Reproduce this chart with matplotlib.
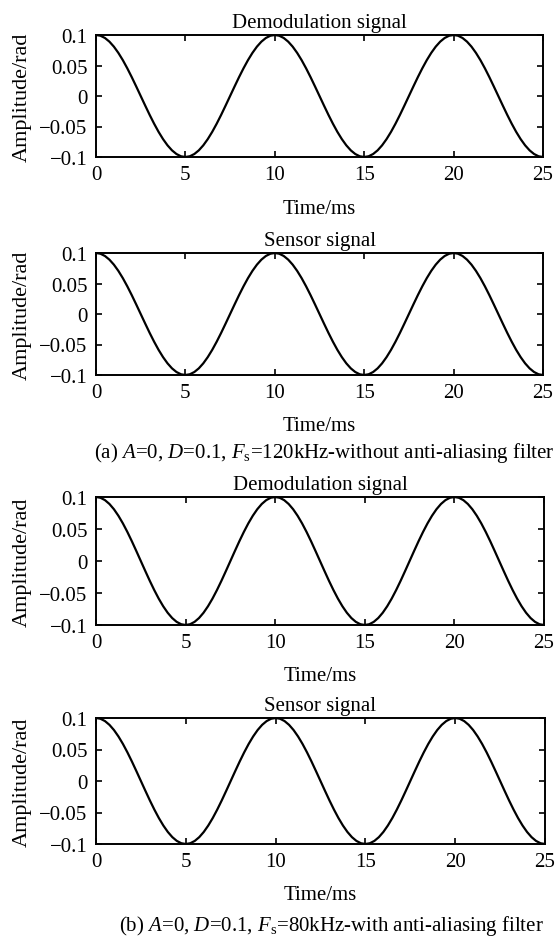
import matplotlib
matplotlib.use("Agg")
import matplotlib.pyplot as plt

plt.rcParams['font.family'] = ['Liberation Serif', 'DejaVu Serif']
plt.rcParams['mathtext.fontset'] = 'custom'
plt.rcParams['mathtext.rm'] = 'Liberation Serif'
plt.rcParams['mathtext.it'] = 'Liberation Serif:italic'

# time axis (ms), read every 0.25 ms
time_ms = [i * 0.25 for i in range(101)]

# amplitude (rad)
demod_a = [
    0.1, 0.0988, 0.0951, 0.0891, 0.0809, 0.0707, 0.0588, 0.0454, 0.0309, 0.0156,
    0.0, -0.0156, -0.0309, -0.0454, -0.0588, -0.0707, -0.0809, -0.0891, -0.0951, -0.0988,
    -0.1, -0.0988, -0.0951, -0.0891, -0.0809, -0.0707, -0.0588, -0.0454, -0.0309, -0.0156,
    0.0, 0.0156, 0.0309, 0.0454, 0.0588, 0.0707, 0.0809, 0.0891, 0.0951, 0.0988,
    0.1, 0.0988, 0.0951, 0.0891, 0.0809, 0.0707, 0.0588, 0.0454, 0.0309, 0.0156,
    0.0, -0.0156, -0.0309, -0.0454, -0.0588, -0.0707, -0.0809, -0.0891, -0.0951, -0.0988,
    -0.1, -0.0988, -0.0951, -0.0891, -0.0809, -0.0707, -0.0588, -0.0454, -0.0309, -0.0156,
    0.0, 0.0156, 0.0309, 0.0454, 0.0588, 0.0707, 0.0809, 0.0891, 0.0951, 0.0988,
    0.1, 0.0988, 0.0951, 0.0891, 0.0809, 0.0707, 0.0588, 0.0454, 0.0309, 0.0156,
    0.0, -0.0156, -0.0309, -0.0454, -0.0588, -0.0707, -0.0809, -0.0891, -0.0951, -0.0988,
    -0.1,
]
sensor_a = list(demod_a)
demod_b = list(demod_a)
sensor_b = list(demod_a)

x_ticks = [0, 5, 10, 15, 20, 25]
y_ticks = [-0.1, -0.05, 0, 0.05, 0.1]
y_tick_labels = ['\u22120.1', '\u22120.05', '0', '0.05', '0.1']

titles = ['Demodulation signal', 'Sensor signal', 'Demodulation signal', 'Sensor signal']
series = [demod_a, sensor_a, demod_b, sensor_b]
captions = [r'(a) $A$=0, $D$=0.1, $F_{\rm s}$=120kHz-without anti-aliasing filter',
            r'(b) $A$=0, $D$=0.1, $F_{\rm s}$=80kHz-with anti-aliasing filter']

W, H = 557, 937
fig = plt.figure(figsize=(W / 100, H / 100), dpi=100)

# axes boxes in pixels: left, top, right, bottom
boxes = [(96, 36, 543, 158), (96, 254, 543, 376), (96, 498, 544, 626), (96, 719, 545, 845)]

FS = 15
for (l, t, r, b), title, y in zip(boxes, titles, series):
    ax = fig.add_axes([l / W, 1 - b / H, (r - l) / W, (b - t) / H])
    ax.plot(time_ms, y, color='black', lw=1.6)
    ax.set_xlim(0, 25)
    ax.set_ylim(-0.1, 0.1)
    ax.set_xticks(x_ticks)
    ax.set_yticks(y_ticks)
    ax.set_yticklabels(y_tick_labels)
    ax.tick_params(direction='in', length=4, width=1.2, top=True, right=True,
                   labelsize=FS, pad=6)
    for s in ax.spines.values():
        s.set_linewidth(1.4)
    ax.set_title(title, fontsize=FS, pad=6)
    fig.text(((l + r) / 2) / W, 1 - (b + 51) / H, 'Time/ms', ha='center', va='center',
             fontsize=FS)
    fig.text(22 / W, 1 - ((t + b) / 2) / H, 'Amplitude/rad', ha='center', va='center',
             rotation=90, fontsize=16)

fig.text(324 / W, 1 - 453 / H, captions[0], ha='center', va='center', fontsize=15)
fig.text(331 / W, 1 - 926 / H, captions[1], ha='center', va='center', fontsize=15)

fig.savefig('out.png', dpi=100)
